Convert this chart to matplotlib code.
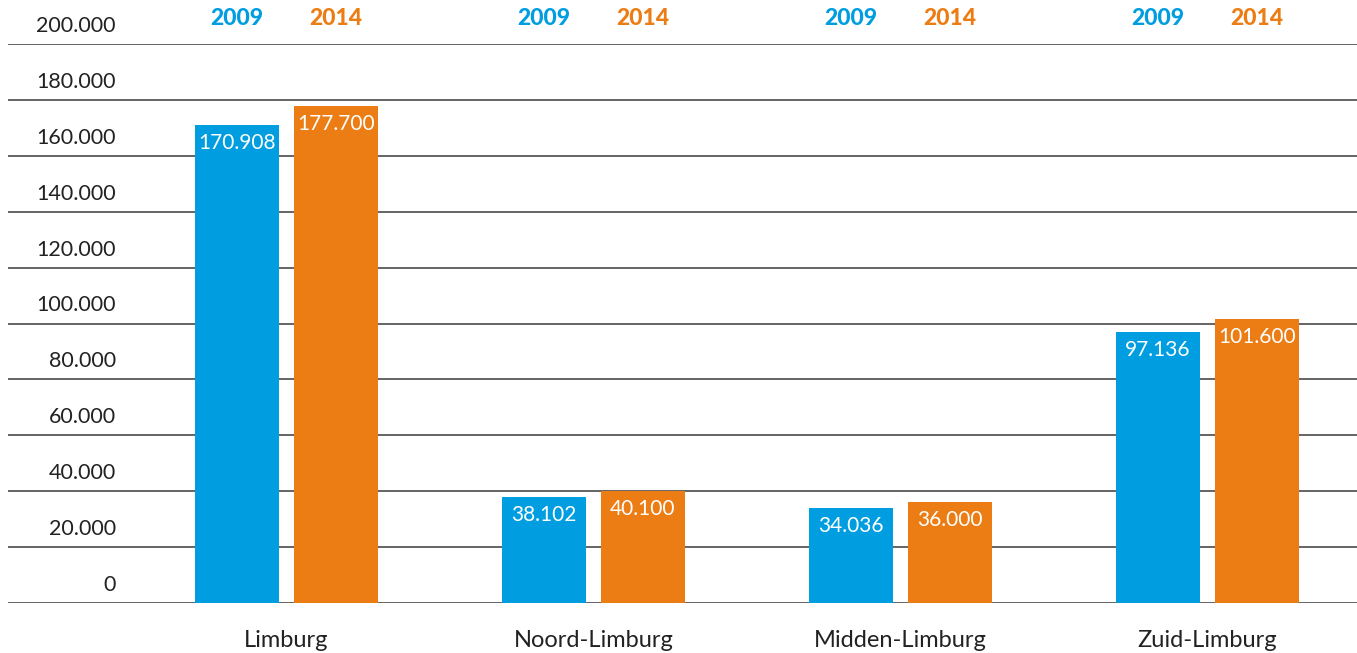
import matplotlib
matplotlib.use("Agg")
import matplotlib.pyplot as plt
import numpy as np

categories = ["Limburg", "Noord-Limburg", "Midden-Limburg", "Zuid-Limburg"]
values_2009 = [170908, 38102, 34036, 97136]
values_2014 = [177700, 40100, 36000, 101600]
labels_2009 = ["170.908", "38.102", "34.036", "97.136"]
labels_2014 = ["177.700", "40.100", "36.000", "101.600"]
years = ["2009", "2014"]
yticks = [0, 20000, 40000, 60000, 80000, 100000, 120000, 140000, 160000, 180000, 200000]
ytick_labels = ["0", "20.000", "40.000", "60.000", "80.000", "100.000", "120.000",
                "140.000", "160.000", "180.000", "200.000"]

BLUE = "#009EE0"
ORANGE = "#EC7D14"
FONT = "Lato"

W, H = 1357, 653
fig = plt.figure(figsize=(W / 100, H / 100), dpi=100)
ax = fig.add_axes([8 / W, (H - 603) / H, (W - 8) / W, (603 - 44) / H])

x = np.arange(len(categories))
bw = 84 / 307
off = 99 / 2 / 307
ax.bar(x - off, values_2009, width=bw, color=BLUE, zorder=3)
ax.bar(x + off, values_2014, width=bw, color=ORANGE, zorder=3)

ax.set_xlim((8 - 286.5) / 307, (1357 - 286.5) / 307)
ax.set_ylim(0, 200000)

label_x = (116 - 8) / (W - 8)
for t, lab in zip(yticks, ytick_labels):
    ax.axhline(t, color="#3a3a3a", lw=1.1, zorder=1)
    ax.annotate(lab, xy=(label_x, t), xycoords=ax.get_yaxis_transform(),
                xytext=(0, 13), textcoords="offset points",
                ha="right", va="center", fontsize=15.5, family=FONT, color="#222222")

for i in range(len(categories)):
    ax.annotate(labels_2009[i], xy=(x[i] - off, values_2009[i]), xytext=(0, -13),
                textcoords="offset points", ha="center", va="center", color="white",
                fontsize=15, family=FONT, zorder=4)
    ax.annotate(labels_2014[i], xy=(x[i] + off, values_2014[i]), xytext=(0, -13),
                textcoords="offset points", ha="center", va="center", color="white",
                fontsize=15, family=FONT, zorder=4)
    ax.annotate(years[0], xy=(x[i] - off, 200000), xytext=(0, 18.5), textcoords="offset points",
                ha="center", va="center", color=BLUE, fontsize=16.5, fontweight="black",
                family=FONT, annotation_clip=False)
    ax.annotate(years[1], xy=(x[i] + off, 200000), xytext=(0, 18.5), textcoords="offset points",
                ha="center", va="center", color=ORANGE, fontsize=16.5, fontweight="black",
                family=FONT, annotation_clip=False)
    ax.annotate(categories[i], xy=(x[i], 0), xytext=(0, -27), textcoords="offset points",
                ha="center", va="center", color="#222222", fontsize=17, family=FONT,
                annotation_clip=False)

ax.set_xticks([])
ax.set_yticks([])
for s in ax.spines.values():
    s.set_visible(False)

fig.savefig("out.png", dpi=100)
